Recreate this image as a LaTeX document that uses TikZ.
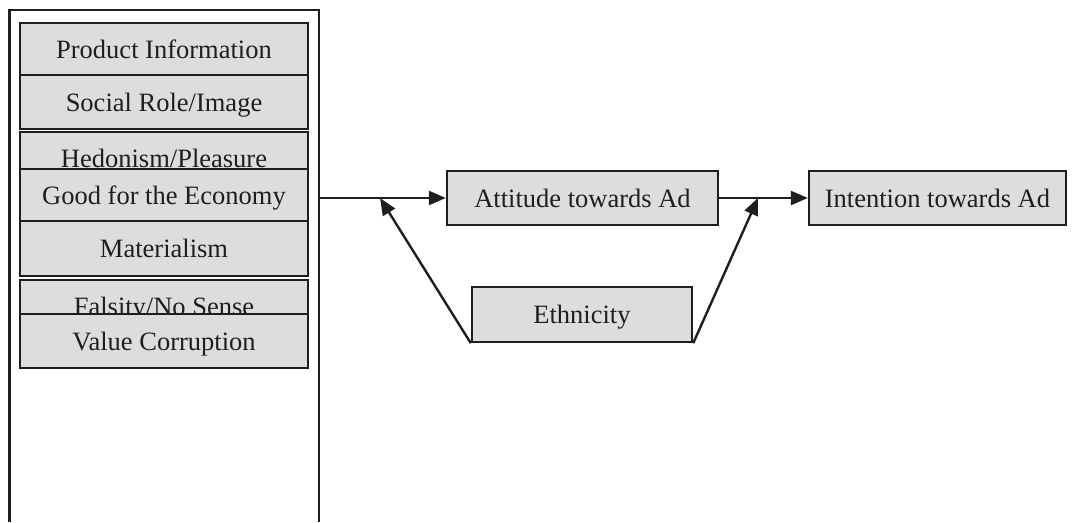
\documentclass[tikz,border=0pt]{standalone}
\usepackage{fontspec}
\setmainfont{Liberation Serif}
\usetikzlibrary{arrows.meta}
\definecolor{boxgray}{RGB}{220,221,223}
\definecolor{ink}{RGB}{30,30,30}
\tikzset{
  factor/.style={draw=ink, fill=boxgray, line width=2.4pt, inner sep=0pt,
    minimum width=288pt, font=\fontsize{26.5}{30}\selectfont, text=ink, text depth=0pt},
  mainbox/.style={draw=ink, fill=boxgray, line width=2.4pt, inner sep=0pt,
    minimum height=54pt, font=\fontsize{26.5}{30}\selectfont, text=ink, text depth=0pt},
  link/.style={draw=ink, line width=2.4pt, -{Triangle[length=17pt,width=14pt]}},
}
\begin{document}
\begin{tikzpicture}[x=1pt,y=-1pt]
\useasboundingbox (0,0) rectangle (1073,522);
% outer frame (open at bottom)
\draw[ink, line width=2.4pt] (9.5,522) -- (9.5,10) -- (319,10) -- (319,522);
% factor boxes
\node[factor, minimum height=52pt] (pi) at (164,49) {Product Information};
\node[factor, minimum height=54pt] (sr) at (164,102) {Social Role/Image};
\node[factor, minimum height=52pt] (he) at (164,158) {Hedonism/Pleasure};
\node[factor, minimum height=52pt] (ge) at (164,195) {Good for the Economy};
\node[factor, minimum height=55pt] (ma) at (164,248.5) {Materialism};
\node[factor, minimum height=52pt] (fa) at (164,306) {Falsity/No Sense};
\node[factor, minimum height=54pt] (vc) at (164,341) {Value Corruption};
% main boxes
\node[mainbox, minimum width=271pt] (att) at (582.5,198) {Attitude towards Ad};
\node[mainbox, minimum width=257pt] (int) at (937.5,198) {Intention towards Ad};
\node[mainbox, minimum width=220pt, minimum height=55pt] (eth) at (582,314.5) {Ethnicity};
% connectors
\coordinate (src) at (319,198);
\coordinate (m1) at (380,198);
\coordinate (m2) at (758,198);
\draw[link] (src) -- (att.west);
\draw[link] (att.east) -- (int.west);
\draw[link] (eth.south west) -- (m1);
\draw[link] (eth.south east) -- (m2);
\end{tikzpicture}
\end{document}
